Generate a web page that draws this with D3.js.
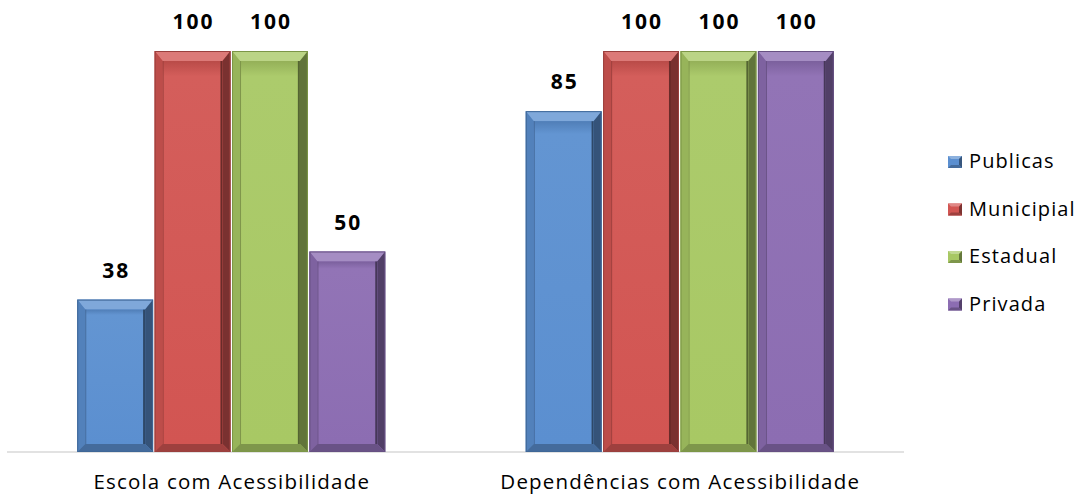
<!DOCTYPE html>
<html><head><meta charset="utf-8">
<script src="https://cdn.jsdelivr.net/npm/d3@7"></script>
<style>body{margin:0;background:#fff}svg{display:block}text{font-family:"Open Sans",Lato,sans-serif}</style>
</head><body><svg id="c" width="1084" height="497"></svg>
<script>
const categories = ["Escola com Acessibilidade", "Dependências com Acessibilidade"];
const seriesNames = ["Publicas", "Municipial", "Estadual", "Privada"];
const publicas = [38, 85];
const municipial = [100, 100];
const estadual = [100, 100];
const privada = [50, 100];
const seriesValues = [publicas, municipial, estadual, privada];
const baseColors = ["#4F81BD", "#C0504D", "#9BBB59", "#8064A2"];
const faceColors = ["#5B8FD0", "#D25552", "#A8C864", "#8C6DB2"];

const svg = d3.select("#c");
const x0 = d3.scaleBand().domain(categories).range([7, 904]).paddingInner(0).paddingOuter(0);
const groupW = 308;
const x1 = d3.scaleBand().domain(seriesNames).range([0, groupW]).paddingInner(0.02);
const y = d3.scaleLinear().domain([0, 100]).range([452, 51]);

svg.append("line").attr("x1", 7).attr("x2", 904).attr("y1", y(0)).attr("y2", y(0))
  .attr("stroke", "#d9d9d9").attr("stroke-width", 1.5);

const data = [];
categories.forEach((c, ci) => seriesNames.forEach((s, si) => data.push({c, s, si, v: seriesValues[si][ci]})));

function shade(col, k) { return k > 0 ? d3.interpolateRgb(col, "#fff")(k) : d3.interpolateRgb(col, "#000")(-k); }

const defs = svg.append("defs");
faceColors.forEach((c, i) => {
  const gr = defs.append("linearGradient").attr("id", "gi" + i).attr("x1", 0).attr("x2", 0).attr("y1", 0).attr("y2", 1);
  gr.append("stop").attr("offset", 0).attr("stop-color", shade(c, -0.12));
  gr.append("stop").attr("offset", 0.04).attr("stop-color", shade(c, 0.05));
  gr.append("stop").attr("offset", 1).attr("stop-color", c);
});

const g = svg.append("g");
data.forEach(d => {
  const bx = x0(d.c) + (x0.bandwidth() - groupW) / 2 + x1(d.s);
  const bw = x1.bandwidth();
  const by = y(d.v), bb = y(0);
  const base = faceColors[d.si];
  const t = 10, s = 8, b = 8;
  const ix0 = bx + s, ix1 = bx + bw - s, iy0 = by + t, iy1 = bb - b;
  const bar = g.append("g");
  bar.append("rect").attr("x", bx).attr("y", by).attr("width", bw).attr("height", bb - by).attr("fill", base);
  bar.append("path").attr("d", `M${bx},${by}L${bx+bw},${by}L${ix1},${iy0}L${ix0},${iy0}Z`).attr("fill", shade(base, 0.22));
  bar.append("path").attr("d", `M${bx},${by}L${ix0},${iy0}L${ix0},${iy1}L${bx},${bb}Z`).attr("fill", shade(base, -0.1));
  bar.append("path").attr("d", `M${bx+bw},${by}L${bx+bw},${bb}L${ix1},${iy1}L${ix1},${iy0}Z`).attr("fill", shade(base, -0.42));
  bar.append("path").attr("d", `M${bx},${bb}L${bx+bw},${bb}L${ix1},${iy1}L${ix0},${iy1}Z`).attr("fill", shade(base, -0.25));
  bar.append("rect").attr("x", ix0).attr("y", iy0).attr("width", ix1 - ix0).attr("height", iy1 - iy0).attr("fill", `url(#gi${d.si})`);
  bar.append("line").attr("x1", ix1 - 1).attr("x2", ix1 - 1).attr("y1", iy0).attr("y2", iy1).attr("stroke", shade(base, -0.5)).attr("stroke-width", 2);
  bar.append("line").attr("x1", ix0 + 0.5).attr("x2", ix0 + 0.5).attr("y1", iy0).attr("y2", iy1).attr("stroke", shade(base, -0.25)).attr("stroke-width", 1);
  bar.append("rect").attr("x", bx + 0.5).attr("y", by + 0.5).attr("width", bw - 1).attr("height", bb - by - 1)
    .attr("fill", "none").attr("stroke", shade(baseColors[d.si], -0.2)).attr("stroke-width", 1);
  svg.append("text").attr("x", bx + bw / 2 + 1).attr("y", by - 22).attr("text-anchor", "middle")
    .attr("font-size", 21).attr("font-weight", "bold").attr("letter-spacing", 2).attr("fill", "#000").text(d.v);
});

categories.forEach(c => {
  svg.append("text").attr("x", x0(c) + x0.bandwidth() / 2 + 0.5).attr("y", 489).attr("text-anchor", "middle")
    .attr("font-size", 20.5).attr("letter-spacing", 1.2).attr("fill", "#000").text(c);
});

const leg = svg.append("g");
seriesNames.forEach((s, i) => {
  const ly = 162 + i * 47.5;
  const lg = leg.append("g");
  const c = faceColors[i];
  lg.append("rect").attr("x", 948).attr("y", ly - 6).attr("width", 14).attr("height", 12).attr("fill", c);
  lg.append("path").attr("d", `M948,${ly-6}L962,${ly-6}L959,${ly-3}L951,${ly-3}Z`).attr("fill", shade(c, 0.3));
  lg.append("path").attr("d", `M962,${ly-6}L962,${ly+6}L959,${ly+3}L959,${ly-3}Z`).attr("fill", shade(c, -0.4));
  lg.append("path").attr("d", `M948,${ly+6}L962,${ly+6}L959,${ly+3}L951,${ly+3}Z`).attr("fill", shade(c, -0.25));
  lg.append("text").attr("x", 969).attr("y", ly + 6).attr("font-size", 20).attr("letter-spacing", 1.1).attr("fill", "#000").text(s);
});
</script></body></html>
